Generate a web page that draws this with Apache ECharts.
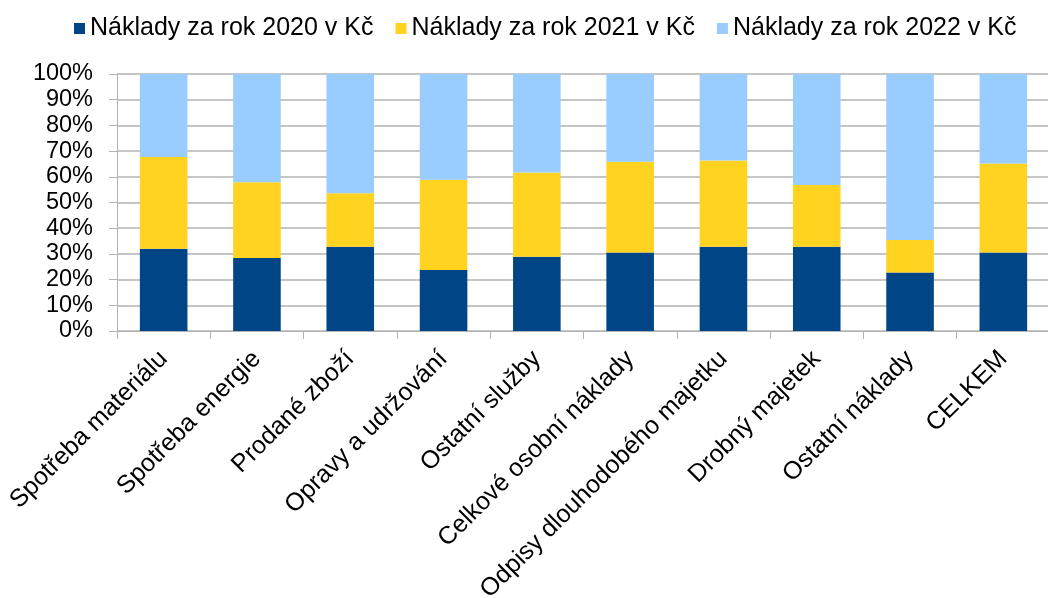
<!DOCTYPE html>
<html>
<head>
<meta charset="utf-8">
<script src="https://cdn.jsdelivr.net/npm/echarts@6/dist/echarts.min.js"></script>
<style>
html, body { margin: 0; padding: 0; background: #fff; }
#chart { width: 1048px; height: 598px; }
</style>
</head>
<body>
<div id="chart"></div>
<script>
// kategorie nákladů
var categories = ['Spotřeba materiálu', 'Spotřeba energie', 'Prodané zboží', 'Opravy a udržování',
    'Ostatní služby', 'Celkové osobní náklady', 'Odpisy dlouhodobého majetku', 'Drobný majetek',
    'Ostatní náklady', 'CELKEM'];

// podíly v %
var naklady2020 = [32.0, 28.4, 32.8, 23.7, 28.9, 30.5, 32.8, 32.8, 22.8, 30.5];
var naklady2021 = [35.7, 29.5, 20.8, 35.2, 32.8, 35.4, 33.5, 24.0, 12.6, 34.7];
var naklady2022 = [32.3, 42.1, 46.4, 41.1, 38.3, 34.1, 33.7, 43.2, 64.6, 34.8];

var seriesNames = ['Náklady za rok 2020 v Kč', 'Náklady za rok 2021 v Kč', 'Náklady za rok 2022 v Kč'];

var chart = echarts.init(document.getElementById('chart'));
chart.setOption({
    animation: false,
    color: ['#004586', '#ffd320', '#99ccff'],
    textStyle: { fontFamily: 'Liberation Sans, Arial, sans-serif' },
    legend: {
        left: 69,
        top: 11,
        itemWidth: 11,
        itemHeight: 11,
        itemGap: 22,
        icon: 'rect',
        textStyle: { fontSize: 25, color: '#000' },
        data: seriesNames
    },
    grid: {
        left: 117,
        right: -2,
        top: 74,
        height: 257,
        containLabel: false,
        outerBoundsMode: 'none'
    },
    xAxis: {
        type: 'category',
        data: categories,
        axisLine: { lineStyle: { color: '#b3b3b3' } },
        axisTick: { show: true, length: 8, lineStyle: { color: '#b3b3b3' } },
        axisLabel: {
            interval: 0,
            rotate: 45,
            fontSize: 25,
            color: '#000',
            margin: 24
        }
    },
    yAxis: {
        type: 'value',
        min: 0,
        max: 100,
        interval: 10,
        axisLine: { show: true, lineStyle: { color: '#b3b3b3' } },
        axisTick: { show: true, length: 8, lineStyle: { color: '#b3b3b3' } },
        splitLine: { lineStyle: { color: '#b3b3b3', width: 1.5 } },
        axisLabel: {
            formatter: '{value}%',
            fontSize: 23.5,
            color: '#000',
            margin: 24
        }
    },
    series: [
        { name: seriesNames[0], type: 'bar', stack: 'total', barCategoryGap: '49%', data: naklady2020 },
        { name: seriesNames[1], type: 'bar', stack: 'total', data: naklady2021 },
        { name: seriesNames[2], type: 'bar', stack: 'total', data: naklady2022 }
    ]
});
</script>
</body>
</html>
